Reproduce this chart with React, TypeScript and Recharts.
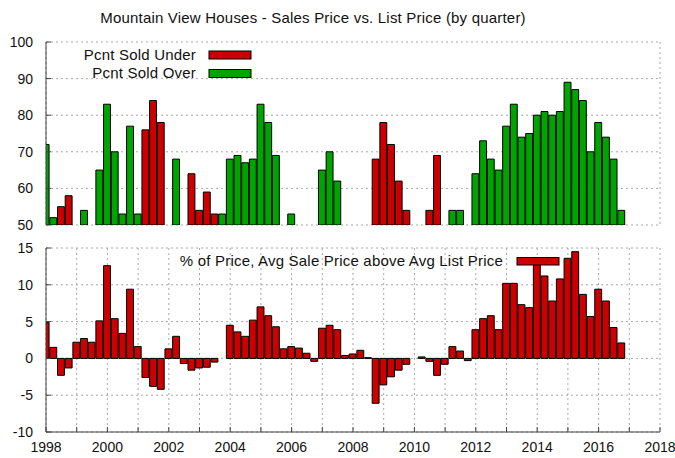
import { Bar, BarChart, CartesianGrid, Cell, XAxis, YAxis } from 'recharts';

// quarter positions: year + offset
const years = [
  1998, 1999, 2000, 2001, 2002, 2003, 2004, 2005, 2006, 2007,
  2008, 2009, 2010, 2011, 2012, 2013, 2014, 2015, 2016
];
const quarterOffsets = [0, 0.25, 0.5, 0.75];

// top panel, one value per quarter (4 per row = one year)
const soldUnder = [
  null, null, 55, 58,
  null, null, null, null,
  null, null, null, null,
  null, 76, 84, 78,
  null, null, null, 64,
  54, 59, 53, null,
  null, null, null, null,
  null, null, null, null,
  null, null, null, null,
  null, null, null, null,
  null, null, null, 68,
  78, 72, 62, 54,
  null, null, 54, 69,
  null, null, null, null,
  null, null, null, null,
  null, null, null, null,
  null, null, null, null,
  null, null, null, null,
  null, null, null, null
];

const soldOver = [
  72, 52, null, null,
  null, 54, null, 65,
  83, 70, 53, 77,
  53, null, null, null,
  null, 68, null, null,
  null, null, null, 53,
  68, 69, 67, 68,
  83, 78, 69, null,
  53, null, null, null,
  65, 70, 62, null,
  null, null, null, null,
  null, null, null, null,
  null, null, null, null,
  null, 54, 54, null,
  64, 73, 68, 65,
  77, 83, 74, 75,
  80, 81, 80, 81,
  89, 87, 84, 70,
  78, 74, 68, 54
];

// bottom panel: % avg sale price above avg list price
const priceAbove = [
  4.9, 1.5, -2.3, -1.3,
  2.2, 2.7, 2.2, 5.1,
  12.6, 5.4, 3.4, 9.4,
  1.6, -2.6, -3.8, -4.2,
  1.3, 3.0, -0.7, -1.6,
  -1.3, -1.2, -0.5, null,
  4.5, 3.6, 3.0, 5.2,
  7.0, 5.8, 4.3, 1.3,
  1.6, 1.4, 0.7, -0.4,
  4.1, 4.5, 3.9, 0.4,
  0.6, 1.1, 0.1, -6.1,
  -3.6, -2.5, -1.6, -0.8,
  null, 0.2, -0.4, -2.3,
  -0.8, 1.6, 1.0, -0.3,
  3.9, 5.4, 5.8, 3.9,
  10.2, 10.2, 7.3, 6.9,
  12.9, 11.2, 7.8, 10.8,
  13.6, 14.5, 8.7, 5.7,
  9.4, 7.8, 4.2, 2.1
];

const yearTicks = [
  1998, 1999, 2000, 2001, 2002, 2003, 2004, 2005, 2006, 2007, 2008,
  2009, 2010, 2011, 2012, 2013, 2014, 2015, 2016, 2017, 2018
];
const topTicks = [50, 60, 70, 80, 90, 100];
const bottomTicks = [-10, -5, 0, 5, 10, 15];

const title = 'Mountain View Houses - Sales Price vs. List Price (by quarter)';
const underLabel = 'Pcnt Sold Under';
const overLabel = 'Pcnt Sold Over';
const aboveLabel = '% of Price, Avg Sale Price above Avg List Price';

const RED = '#cc0000';
const GREEN = '#00a400';
const AXIS = '#404040';
const FONT = '"Liberation Sans", Arial, sans-serif';

const quarters = years.flatMap((y) => quarterOffsets.map((q) => y + q));
const topData = quarters.map((t, i) => ({
  t,
  pct: soldUnder[i] ?? soldOver[i],
  under: soldUnder[i] != null
}));
const bottomData = quarters.map((t, i) => ({ t, above: priceAbove[i] }));

const W = 675;
const PLOT_LEFT = 46;
const PLOT_RIGHT = 660;
const BAR = (PLOT_RIGHT - PLOT_LEFT) / (yearTicks.length - 1) / 4;

const tickStyle = { fill: '#111', fontSize: 14, fontFamily: FONT };
const grid = { stroke: '#a8a8a8', strokeDasharray: '2 3' };

function axes(domainY: number[], ticksY: number[], showX: boolean) {
  return [
    <XAxis
      key="x"
      type="number"
      dataKey="t"
      domain={[1998, 2018]}
      ticks={yearTicks}
      interval={0}
      allowDataOverflow
      height={showX ? 25 : 0}
      tickSize={-5}
      tickMargin={15}
      stroke={AXIS}
      tick={showX ? tickStyle : false}
      tickFormatter={(v: number) => (v % 2 === 0 ? String(v) : '')}
    />,
    <XAxis
      key="xt"
      xAxisId="mirror"
      orientation="top"
      type="number"
      domain={[1998, 2018]}
      ticks={yearTicks}
      interval={0}
      allowDataOverflow
      height={0}
      tickSize={-5}
      stroke={AXIS}
      tick={false}
    />,
    <YAxis
      key="y"
      type="number"
      domain={domainY}
      ticks={ticksY}
      interval={0}
      allowDataOverflow
      width={40}
      tickSize={-5}
      tickMargin={18}
      stroke={AXIS}
      tick={tickStyle}
    />,
    <YAxis
      key="yr"
      yAxisId="mirror"
      orientation="right"
      type="number"
      domain={domainY}
      ticks={ticksY}
      interval={0}
      allowDataOverflow
      width={0}
      tickSize={-5}
      stroke={AXIS}
      tick={false}
    />
  ];
}

export default function App() {
  return (
    <div
      style={{
        position: 'absolute',
        left: 0,
        top: 0,
        width: W,
        height: 458,
        background: '#fff',
        fontFamily: FONT
      }}
    >
      <div style={{ position: 'absolute', left: 0, top: 0 }}>
        <BarChart
          width={W}
          height={240}
          data={topData}
          margin={{ top: 42, right: W - PLOT_RIGHT, bottom: 15, left: PLOT_LEFT - 40 }}
        >
          <CartesianGrid {...grid} />
          {axes([50, 100], topTicks, false)}
          <Bar dataKey="pct" barSize={BAR} stroke="#000" strokeWidth={1} isAnimationActive={false}>
            {topData.map((d, i) => (
              <Cell key={i} fill={d.under ? RED : GREEN} />
            ))}
          </Bar>
        </BarChart>
      </div>
      <div style={{ position: 'absolute', left: 0, top: 230 }}>
        <BarChart
          width={W}
          height={228}
          data={bottomData}
          margin={{ top: 18, right: W - PLOT_RIGHT, bottom: 1, left: PLOT_LEFT - 40 }}
        >
          <CartesianGrid {...grid} />
          {axes([-10, 15], bottomTicks, true)}
          <Bar dataKey="above" barSize={BAR} fill={RED} stroke="#000" strokeWidth={1} isAnimationActive={false} />
        </BarChart>
      </div>
      <svg
        width={W}
        height={458}
        style={{ position: 'absolute', left: 0, top: 0, pointerEvents: 'none' }}
        fontFamily={FONT}
        fontSize={15}
        letterSpacing={0.2}
        fill="#111"
      >
        <text x={313} y={23} textAnchor="middle">{title}</text>
        <text x={196} y={60} textAnchor="end">{underLabel}</text>
        <rect x={209} y={51} width={42} height={8} fill={RED} stroke="#000" />
        <text x={196} y={78} textAnchor="end">{overLabel}</text>
        <rect x={209} y={69.5} width={42} height={8} fill={GREEN} stroke="#000" />
        <text x={503} y={265.5} textAnchor="end">{aboveLabel}</text>
        <rect x={517} y={257.5} width={42} height={7.5} fill={RED} stroke="#000" />
      </svg>
    </div>
  );
}
